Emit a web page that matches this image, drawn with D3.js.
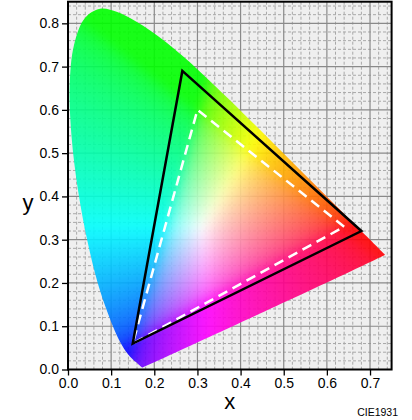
<!DOCTYPE html>
<html><head><meta charset="utf-8">
<script src="https://cdn.jsdelivr.net/npm/d3@7"></script>
<style>body{margin:0;background:#fff}svg{display:block}</style>
</head><body>
<script>
// CIE 1931 2° spectral locus chromaticity, 380–700 nm every 5 nm
const wavelengths = d3.range(380, 701, 5);
const locusX = [0.1741,0.1740,0.1738,0.1736,0.1733,0.1730,0.1726,0.1721,0.1714,0.1703,0.1689,0.1669,0.1644,0.1611,0.1566,0.1510,0.1440,0.1355,0.1241,0.1096,0.0913,0.0687,0.0454,0.0235,0.0082,0.0039,0.0139,0.0389,0.0743,0.1142,0.1547,0.1929,0.2296,0.2658,0.3016,0.3373,0.3731,0.4087,0.4441,0.4788,0.5125,0.5448,0.5752,0.6029,0.6270,0.6482,0.6658,0.6801,0.6915,0.7006,0.7079,0.7140,0.7190,0.7230,0.7260,0.7283,0.7300,0.7311,0.7320,0.7327,0.7334,0.7340,0.7344,0.7346,0.7347];
const locusY = [0.0050,0.0050,0.0049,0.0049,0.0048,0.0048,0.0048,0.0048,0.0051,0.0058,0.0069,0.0086,0.0109,0.0138,0.0177,0.0227,0.0297,0.0399,0.0578,0.0868,0.1327,0.2007,0.2950,0.4127,0.5384,0.6548,0.7502,0.8120,0.8338,0.8262,0.8059,0.7816,0.7543,0.7243,0.6923,0.6589,0.6245,0.5896,0.5547,0.5202,0.4866,0.4544,0.4242,0.3965,0.3725,0.3514,0.3340,0.3197,0.3083,0.2993,0.2920,0.2859,0.2809,0.2770,0.2740,0.2717,0.2700,0.2689,0.2680,0.2673,0.2666,0.2660,0.2656,0.2654,0.2653];
// Gamut triangles (R, G, B primaries)
const p3X = [0.680, 0.265, 0.150];
const p3Y = [0.320, 0.690, 0.060];
const srgbX = [0.640, 0.300, 0.150];
const srgbY = [0.330, 0.600, 0.060];
const xTicks = [0.0, 0.1, 0.2, 0.3, 0.4, 0.5, 0.6, 0.7];
const yTicks = [0.0, 0.1, 0.2, 0.3, 0.4, 0.5, 0.6, 0.7, 0.8];
const xTitle = "x", yTitle = "y", note = "CIE1931";

const W = 412, H = 420;
const xs = d3.scaleLinear().domain([0, 0.75]).range([68, 391.6]);
const ys = d3.scaleLinear().domain([0, 0.85]).range([369.5, 1.7]);
const FONT = "'Liberation Sans', Arial, sans-serif";

const svg = d3.select("body").append("svg").attr("width", W).attr("height", H);
const x0 = xs.range()[0], x1 = xs.range()[1], y0 = ys.range()[1], y1 = ys.range()[0];

// background
svg.append("rect").attr("x", x0).attr("y", y0).attr("width", x1 - x0).attr("height", y1 - y0).attr("fill", "#efefef");

// grid
const g = svg.append("g");
const minorX = d3.range(0, 0.7501, 0.02).filter(v => Math.abs(v * 10 - Math.round(v * 10)) > 1e-6);
const minorY = d3.range(0, 0.8501, 0.02).filter(v => Math.abs(v * 10 - Math.round(v * 10)) > 1e-6);
g.selectAll(".mx").data(minorX).join("line").attr("x1", d => xs(d)).attr("x2", d => xs(d)).attr("y1", y0).attr("y2", y1)
  .attr("stroke", "#a8a8a8").attr("stroke-width", 1).attr("stroke-dasharray", "3,2");
g.selectAll(".my").data(minorY).join("line").attr("y1", d => ys(d)).attr("y2", d => ys(d)).attr("x1", x0).attr("x2", x1)
  .attr("stroke", "#a8a8a8").attr("stroke-width", 1).attr("stroke-dasharray", "3,2");
g.selectAll(".Mx").data(xTicks).join("line").attr("x1", d => xs(d)).attr("x2", d => xs(d)).attr("y1", y0).attr("y2", y1)
  .attr("stroke", "#8a8a8a").attr("stroke-width", 1.2);
g.selectAll(".My").data(yTicks).join("line").attr("y1", d => ys(d)).attr("y2", d => ys(d)).attr("x1", x0).attr("x2", x1)
  .attr("stroke", "#8a8a8a").attr("stroke-width", 1.2);

// colour fill (computed with padding, then softened)
const locus = locusX.map((x, i) => [x, locusY[i]]);
const pad = 20;
const pw = Math.ceil(x1 - x0), ph = Math.ceil(y1 - y0);
const cw = pw + 2 * pad, ch = ph + 2 * pad;
const cv = document.createElement("canvas");
cv.width = cw; cv.height = ch;
const ctx = cv.getContext("2d");
const img = ctx.createImageData(cw, ch);
const gam = c => c <= 0.0031308 ? 12.92 * c : 1.055 * Math.pow(c, 1 / 2.4) - 0.055;
for (let j = 0; j < ch; j++) {
  const cy = ys.invert(y0 - pad + j + 0.5);
  for (let i = 0; i < cw; i++) {
    const cx = xs.invert(x0 - pad + i + 0.5);
    const yy = Math.max(cy, 0.002);
    const X = cx / yy, Y = 1, Z = (1 - cx - yy) / yy;
    let r = 3.2406 * X - 1.5372 * Y - 0.4986 * Z;
    let gg = -0.9689 * X + 1.8758 * Y + 0.0415 * Z;
    let b = 0.0557 * X - 0.2040 * Y + 1.0570 * Z;
    r = Math.max(r, 0); gg = Math.max(gg, 0); b = Math.max(b, 0);
    const mx = Math.max(r, gg, b) || 1;
    r /= mx; gg /= mx; b /= mx;
    const k = (j * cw + i) * 4;
    img.data[k] = Math.round(gam(r) * 255);
    img.data[k + 1] = Math.round(gam(gg) * 255);
    img.data[k + 2] = Math.round(gam(b) * 255);
    img.data[k + 3] = 255;
  }
}
ctx.putImageData(img, 0, 0);
const cv2 = document.createElement("canvas");
cv2.width = cw; cv2.height = ch;
const ctx2 = cv2.getContext("2d");
ctx2.filter = "blur(5px)";
ctx2.drawImage(cv, 0, 0);
const line = d3.line().x(d => xs(d[0])).y(d => ys(d[1])).curve(d3.curveCatmullRomClosed.alpha(0.5));
svg.append("clipPath").attr("id", "loc").append("path").attr("d", line(locus));
svg.append("image").attr("href", cv2.toDataURL()).attr("x", x0 - pad).attr("y", y0 - pad).attr("width", cw).attr("height", ch)
  .attr("preserveAspectRatio", "none").attr("clip-path", "url(#loc)").attr("opacity", 0.9);

// triangles
const tri = (xa, ya) => d3.line().x(d => xs(d[0])).y(d => ys(d[1])).curve(d3.curveLinearClosed)(xa.map((x, i) => [x, ya[i]]));
svg.append("path").attr("d", tri(srgbX, srgbY)).attr("fill", "none").attr("stroke", "#fff").attr("stroke-width", 2.5)
  .attr("stroke-dasharray", "10,6").attr("stroke-linejoin", "miter");
svg.append("path").attr("d", tri(p3X, p3Y)).attr("fill", "none").attr("stroke", "#000").attr("stroke-width", 2.5)
  .attr("stroke-linejoin", "miter");

// frame
svg.append("rect").attr("x", x0).attr("y", y0).attr("width", x1 - x0).attr("height", y1 - y0)
  .attr("fill", "none").attr("stroke", "#000").attr("stroke-width", 2);

// axes
const fmt = d3.format(".1f");
const ax = svg.append("g").attr("transform", `translate(0,${y1})`)
  .call(d3.axisBottom(xs).tickValues(xTicks).tickFormat(fmt).tickSize(6).tickPadding(3));
const ay = svg.append("g").attr("transform", `translate(${x0},0)`)
  .call(d3.axisLeft(ys).tickValues(yTicks).tickFormat(fmt).tickSize(6).tickPadding(3));
[ax, ay].forEach(a => {
  a.select(".domain").remove();
  a.selectAll("line").attr("stroke", "#000").attr("stroke-width", 1.3);
  a.selectAll("text").attr("font-family", FONT).attr("font-size", 14).attr("fill", "#000");
});

svg.append("text").attr("x", (x0 + x1) / 2).attr("y", 409).attr("text-anchor", "middle")
  .attr("font-family", FONT).attr("font-size", 22).text(xTitle);
svg.append("text").attr("x", 28).attr("y", 210).attr("text-anchor", "middle")
  .attr("font-family", FONT).attr("font-size", 22).text(yTitle);
svg.append("text").attr("x", 398).attr("y", 415.5).attr("text-anchor", "end")
  .attr("font-family", FONT).attr("font-size", 10.5).text(note);
</script>
</body></html>
